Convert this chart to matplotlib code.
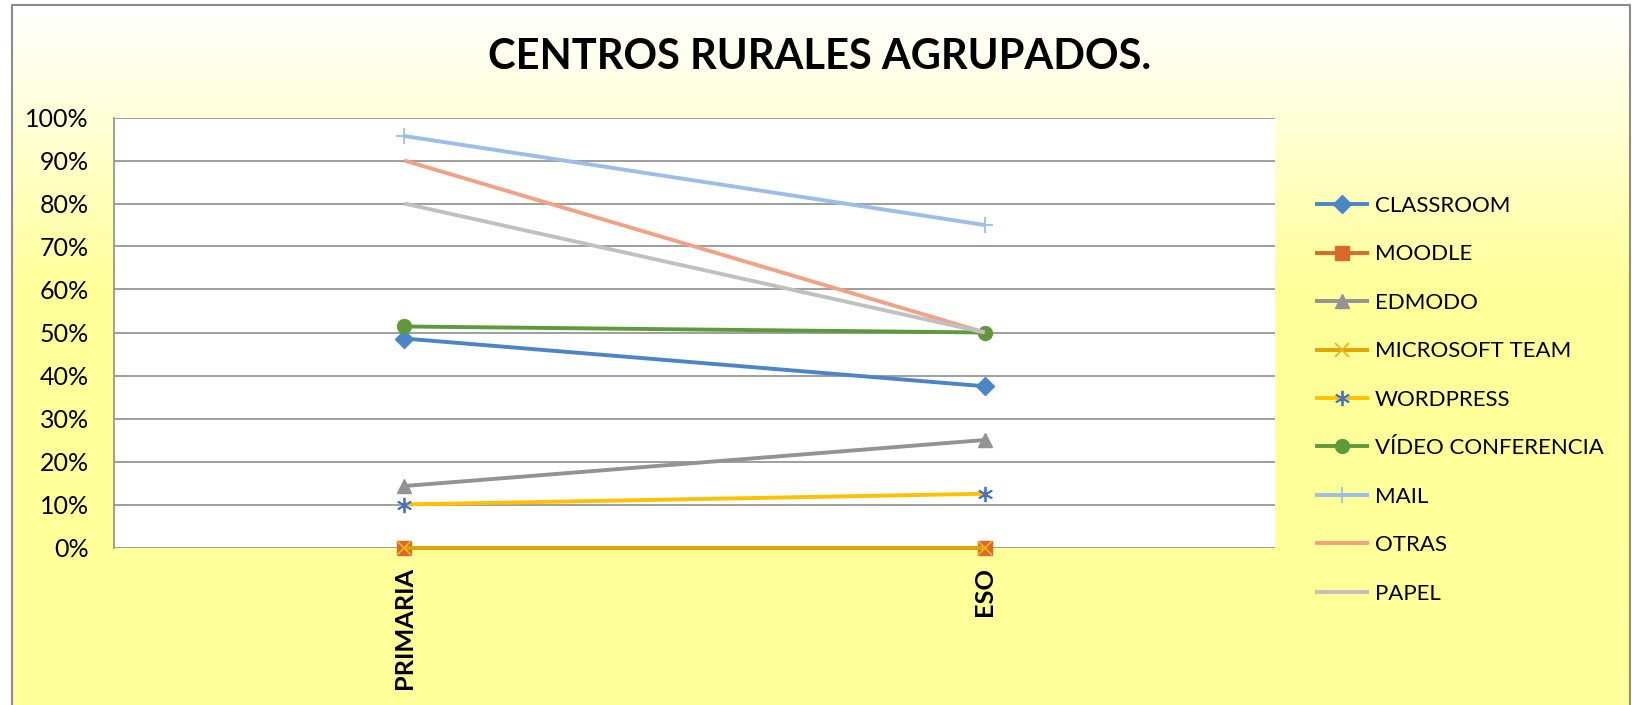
import numpy as np
import matplotlib.pyplot as plt
from matplotlib.ticker import PercentFormatter

plt.rcParams['font.family'] = ['Lato', 'DejaVu Sans']

# data
etapas = ['PRIMARIA', 'ESO']
series = ['CLASSROOM', 'MOODLE', 'EDMODO', 'MICROSOFT TEAM', 'WORDPRESS',
          'VÍDEO CONFERENCIA', 'MAIL', 'OTRAS', 'PAPEL']
primaria = [0.486, 0.0, 0.143, 0.0, 0.10, 0.514, 0.957, 0.90, 0.80]
eso = [0.375, 0.0, 0.25, 0.0, 0.125, 0.50, 0.75, 0.50, 0.50]

line_colors = ['#4A86C5', '#D86A2C', '#939393', '#E0A500', '#FFC000',
               '#5E9A3C', '#9BBDE6', '#F2A283', '#C0C0C0']
marker_colors = ['#4A86C5', '#D9692B', '#939393', '#F0B020', '#4472C4',
                 '#5E9A3C', '#9BBDE6', '#F2A283', '#C0C0C0']
markers = ['D', 's', '^', 'x', (6, 2, 0), 'o', '+', None, None]
marker_sizes = [9, 10, 10, 10, 11, 10, 12, 0, 0]

W, H = 1633, 705
fig = plt.figure(figsize=(W / 100, H / 100), dpi=100)

# background with yellow gradient
bg = fig.add_axes([0, 0, 1, 1], zorder=-10)
bg.set_xlim(0, W)
bg.set_ylim(H, 0)
bg.axis('off')
t = np.clip((np.arange(H) - 5) / 280.0, 0, 1)
top = np.array([1.0, 1.0, 1.0])
bottom = np.array([1.0, 1.0, 0.6])
grad = top[None, :] * (1 - t[:, None]) + bottom[None, :] * t[:, None]
img = np.repeat(grad[:, None, :], 2, axis=1)
bg.imshow(img, extent=(12, 1630, H, 5), aspect='auto', interpolation='bilinear')
bg.plot([12, 12, 1630, 1630], [H, 5, 5, H], color='#8C8C8C', lw=1.5)

ax = fig.add_axes([114 / W, 1 - 547.5 / H, (1275 - 114) / W, (547.5 - 117.5) / H])
ax.set_facecolor('white')

x = np.arange(len(etapas))
for i, name in enumerate(series):
    m = markers[i]
    ax.plot(x, [primaria[i], eso[i]], color=line_colors[i], lw=2.8,
            marker=m, markersize=marker_sizes[i],
            markerfacecolor=marker_colors[i], markeredgecolor=marker_colors[i],
            markeredgewidth=1.3 if m in ('x', '+', (6, 2, 0)) else 1,
            label=name, clip_on=False, solid_capstyle='butt')

ax.set_xlim(-0.5, 1.5)
ax.set_ylim(0, 1)
ax.set_yticks(np.arange(0, 1.01, 0.1))
ax.yaxis.set_major_formatter(PercentFormatter(1.0, decimals=0))
ax.grid(axis='y', color='#969696', lw=1.3)
ax.set_axisbelow(True)
ax.set_xticks(x)
ax.set_xticklabels(etapas, rotation=90, fontsize=18.3, fontweight='bold', va='top')
ax.tick_params(axis='x', length=0, pad=14)
ax.tick_params(axis='y', length=0, pad=18, labelsize=18)
for s in ['top', 'right', 'bottom']:
    ax.spines[s].set_visible(False)
ax.spines['left'].set_color('#969696')
ax.spines['left'].set_linewidth(1.3)

fig.text(820 / W, 1 - 57 / H, 'CENTROS RURALES AGRUPADOS.', ha='center', va='center',
         fontsize=30, fontweight='bold')

fig.legend(loc='upper left', bbox_to_anchor=(1315 / W, 1 - 196 / H),
           frameon=False, fontsize=16, handlelength=2.43, handletextpad=0.27,
           labelspacing=1.28, borderpad=0, borderaxespad=0)

fig.savefig('out.png', dpi=100)
